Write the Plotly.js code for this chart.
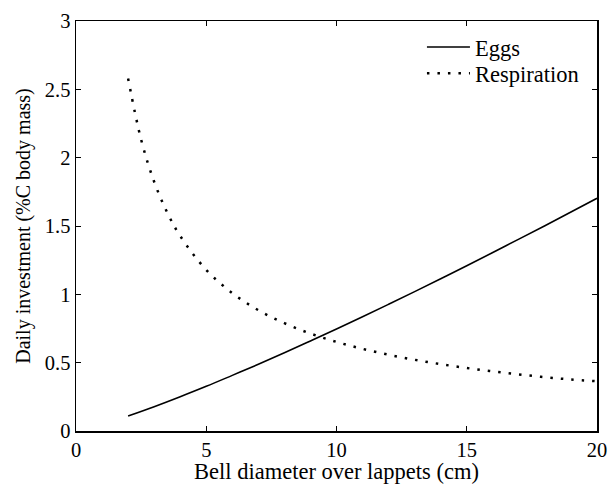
<!DOCTYPE html>
<html><head><meta charset="utf-8">
<script src="https://cdn.plot.ly/plotly-3.0.1.min.js"></script>
<style>html,body{margin:0;padding:0;background:#fff}#c{width:611px;height:484px}</style>
</head><body><div id="c"></div>
<script>
const eggsX = [2,3,4,5,6,7,8,9,10,11,12,13,14,15,16,17,18,19,20];
const eggsY = [0.110,0.178,0.251,0.327,0.407,0.488,0.572,0.659,0.747,0.836,0.927,1.020,1.114,1.209,1.306,1.404,1.502,1.602,1.703];
const respX = [2,2.5,3,3.5,4,5,6,7,8,9,10,11,12,13,14,15,16,17,18,19,20];
const respY = [2.58,2.132,1.824,1.599,1.427,1.179,1.009,0.884,0.789,0.713,0.652,0.601,0.558,0.521,0.489,0.461,0.436,0.414,0.394,0.377,0.364];
const xTicks = [0,5,10,15,20];
const yTicks = [0,0.5,1,1.5,2,2.5,3];
const F = "Liberation Serif, Times New Roman, serif";
const data = [
  {x: eggsX, y: eggsY, name: 'Eggs', mode: 'lines', legend: 'legend', line: {color: '#000', width: 1.6, shape: 'spline'}},
  {x: respX, y: respY, name: 'Respiration', mode: 'lines', legend: 'legend2', line: {color: '#000', width: 2.5, dash: '2.5px,8px', shape: 'spline'}}
];
const axBase = {showgrid: false, zeroline: false, showline: true, linecolor: '#000', linewidth: 1.5,
  mirror: 'ticks', ticks: 'inside', ticklen: 5, tickcolor: '#000', tickwidth: 1,
  tickfont: {family: F, size: 20.5, color: '#000'}};
const legBase = {x: 0.664, xanchor: 'left', yanchor: 'top', bgcolor: 'rgba(0,0,0,0)',
  font: {family: F, size: 22.5, color: '#000'}, itemwidth: 43};
const layout = {
  width: 611, height: 484,
  margin: {l: 76, r: 14, t: 21, b: 53},
  paper_bgcolor: '#fff', plot_bgcolor: '#fff',
  showlegend: true,
  legend: Object.assign({}, legBase, {y: 0.988}),
  legend2: Object.assign({}, legBase, {y: 0.924}),
  xaxis: Object.assign({}, axBase, {range: [0, 20], tickvals: xTicks, ticktext: xTicks.map(String),
    title: {text: 'Bell diameter over lappets (cm)', font: {family: F, size: 22.5, color: '#000'}, standoff: 1}}),
  yaxis: Object.assign({}, axBase, {range: [0, 3], tickvals: yTicks, ticktext: yTicks.map(String),
    title: {text: 'Daily investment (%C body mass)', font: {family: F, size: 20, color: '#000'}, standoff: 9}})
};
Plotly.newPlot('c', data, layout, {displayModeBar: false, staticPlot: true});
</script></body></html>
